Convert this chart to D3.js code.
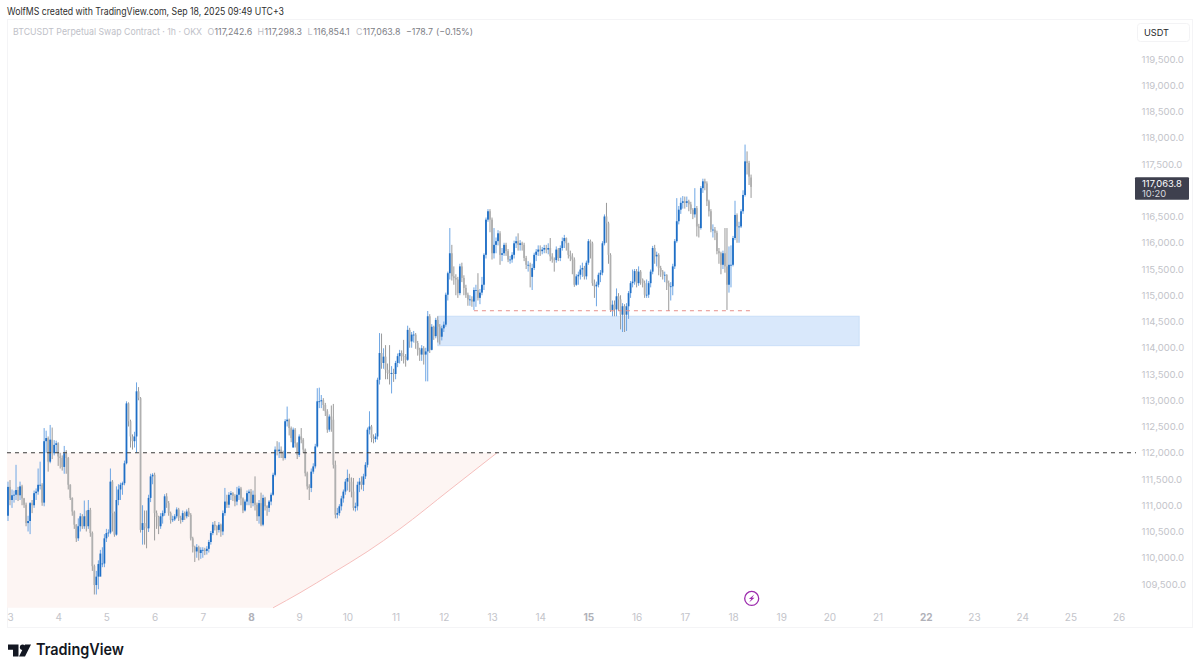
<!DOCTYPE html>
<html>
<head>
<meta charset="utf-8">
<script src="https://cdn.jsdelivr.net/npm/d3@7"></script>
<style>
  body { margin: 0; background: #fff; }
  svg { display: block; font-family: Inter, "Noto Sans", sans-serif; }
</style>
</head>
<body>
<svg id="chart" width="1200" height="672"></svg>
<script>
// BTCUSDT 1h candles, one row per day
// first row holds the single candle before Sep 3 00:00
const firstHour = -1;
const opens = [110800,
  111350,111100,111190,111200,111290,111190,111360,111130,111010,110660,110700,111040,111000,111230,111260,111390,111390,111050,112220,112280,111830,112250,111990,112150,
  112180,111930,111900,111730,111990,111900,111390,111140,110880,110630,110370,110600,110790,110600,110790,110600,110910,110470,109840,109480,109640,109640,109880,109890,
  110370,110470,110480,111450,110850,110440,111100,111300,111390,111420,111800,112940,112600,112310,112220,112310,113170,113040,110530,110660,110590,110560,111140,111550,
  111580,110850,110780,110600,110790,110850,111170,111040,110850,110720,110730,110790,110920,110760,110720,110850,110790,110880,110820,110370,110210,110120,110200,110090,
  110150,110150,110130,110170,110300,110470,110630,110600,110530,110630,110500,110850,111070,111010,111200,111230,111180,111070,111200,111320,111130,110900,111070,111230,
  111260,111040,111200,111010,110790,111040,110630,111140,110980,110950,111070,111200,111580,112060,112030,112060,112000,111900,112600,112630,112470,112100,112440,112180,
  111960,112310,112250,112060,111610,111360,111330,111640,111740,112120,112980,112980,113000,112910,112790,112440,112690,112630,111770,110820,110850,110980,111130,111260,
  111450,111520,111450,111260,110950,110980,111390,111450,111390,111550,111770,112440,112500,112280,112260,112310,113390,113900,113710,113830,113580,113520,113500,113520,
  113500,113710,113840,113900,113840,113830,113770,114340,114120,114250,114250,114090,113960,113870,113990,113870,113930,114600,113960,114400,114220,114530,114400,114210,
  114370,114440,115010,115420,115800,115360,115330,115300,115040,115550,115330,115140,115010,114920,114920,114880,115100,115100,114950,115050,115200,115770,116440,116600,
  116440,115800,115960,116030,116180,115770,115800,115960,115840,115680,115680,115770,115990,116030,115960,115990,115960,115710,115580,115580,115350,115520,115770,115830,
  115870,115840,115870,115900,115870,115900,115740,115680,115670,115870,115710,115900,116030,116090,115990,115770,115740,115680,115200,115360,115390,115490,115520,115360,
  115620,116030,115990,115230,115170,115200,115390,115430,115990,116500,116370,115770,114720,114820,114730,114980,114920,114630,114790,114630,114790,115040,115230,115260,
  115460,115230,115450,115300,115230,115010,115010,115230,115450,115900,115740,115770,115520,115450,115390,115390,115230,115170,115170,115550,116030,116410,116630,116760,
  116790,116760,116790,116730,116630,116540,116660,116310,116280,117040,117170,117130,116790,116600,116250,116250,116190,115840,115800,115580,115800,115550,115200,115580,
  115580,116090,116530,116310,116310,116600,116910,117550,117520,117242.6];
const highs = [111450,
  111480,111300,111280,111770,111350,111450,111390,111140,111050,110800,111060,111100,111280,111320,111700,111830,111420,112470,112420,112310,112530,112480,112240,112230,
  112200,112000,111950,112130,112050,111920,111400,111150,110900,110640,110750,110850,110830,111090,110900,111100,110950,110500,109870,109750,109950,110150,110200,110450,
  110550,110540,111700,111480,110880,111360,111400,111430,111450,111850,112980,112960,112630,112350,112400,113340,113250,113060,111000,110900,110900,111200,111600,111610,
  111620,110900,110800,110850,110900,111210,111230,111080,110880,110800,110830,110960,110950,110800,110900,110880,110920,110950,110850,110400,110230,110260,110230,110200,
  110200,110190,110220,110340,110510,110680,110700,110620,110680,110650,110900,111330,111200,111250,111270,111250,111210,111350,111370,111350,111150,111110,111280,111300,
  111310,111280,111550,111050,111100,111240,111200,111160,111000,111100,111240,111620,112120,112220,112200,112120,112040,112640,112880,112650,112500,112480,112470,112200,
  112350,112470,112280,112080,111640,111400,111700,111800,112170,113230,113240,113100,113040,112950,112830,112730,112900,112930,111850,110950,111020,111180,111300,111500,
  111680,111600,111530,111520,111050,111450,111520,111550,111600,111820,112480,112790,112530,112350,112370,113430,114280,114270,113990,114050,113700,114050,113650,113600,
  113750,113890,113960,113950,114150,113880,114420,114380,114300,114320,114280,114130,114000,114050,114030,114000,114700,114640,114450,114420,114570,114600,114450,114420,
  114500,115050,115450,116280,115960,115550,115400,115350,115600,115620,115380,115200,115050,115000,114980,115150,115200,115420,115120,115350,115800,116480,116640,116640,
  116480,116280,116100,116240,116220,115900,116000,116000,115880,115750,115820,116040,116120,116180,116050,116020,116000,115750,115650,115620,115600,115810,115880,115950,
  115950,115920,115960,115960,115990,116090,115800,115720,115930,115900,115950,116100,116150,116100,116000,115850,115800,115720,115400,115450,115570,115620,115560,115660,
  116070,116060,116020,115300,115260,115430,115480,116030,116540,116760,116400,115800,114900,114900,115130,115040,115000,114850,114830,114850,115080,115270,115490,115500,
  115500,115550,115480,115320,115280,115300,115270,115490,115940,115960,115830,115800,115560,115480,115450,115400,115280,115250,115600,116070,116850,116700,116860,116890,
  116880,116880,116820,116780,116660,117040,116700,116360,117080,117220,117220,117170,116820,116640,116350,116300,116230,115900,115830,115850,116280,116280,115930,115950,
  116130,116800,116560,116400,116640,117000,117870,117740,117560,117298.3];
const lows = [110700,
  111000,110950,111050,111100,111080,111100,111000,110950,110600,110500,110450,110850,110950,111100,111200,111300,110990,110980,112000,111640,111800,111880,111950,112000,
  111750,111700,111660,111600,111600,111300,111100,110800,110550,110300,110320,110500,110550,110550,110500,110550,110400,109750,109300,109300,109400,109800,109820,109820,
  110300,110400,110450,110500,110400,110420,111000,111100,111200,111380,111780,112500,112100,112060,112100,112000,113000,110480,110250,110250,110180,110490,111060,111400,
  110330,110550,110450,110550,110650,110800,110950,110800,110650,110680,110700,110750,110700,110650,110680,110720,110750,110780,110330,110100,109920,110000,109950,109980,
  110000,110050,110060,110100,110250,110430,110520,110430,110480,110400,110430,110800,110950,110950,111100,111080,110980,111000,111100,111000,110850,110880,111000,111000,
  110950,110980,110900,110700,110650,110600,110600,110900,110800,110870,111000,111180,111550,111950,111900,111900,111850,111870,112500,112330,112200,112100,112100,111880,
  111920,112180,112000,111550,111300,111100,111250,111600,111700,112100,112850,112850,112800,112700,112380,112400,112400,111700,110750,110750,110800,110900,111050,111200,
  111280,111250,111150,110900,110880,110900,111250,111300,111270,111500,111720,112350,112200,112180,112200,112250,113300,113600,113600,113400,113400,113300,113130,113350,
  113400,113630,113700,113750,113700,113640,113750,114000,114000,114100,113980,113850,113750,113750,113680,113360,113360,113900,113950,114150,114180,114100,114060,114140,
  114300,114400,114900,115300,115280,115200,115000,114950,115000,115250,115000,114950,114800,114800,114780,114720,114780,114900,114830,115000,115100,115700,116400,116200,
  115680,115700,115800,115950,115580,115650,115750,115750,115630,115600,115620,115700,115900,115850,115850,115850,115650,115500,115450,115150,115100,115480,115650,115750,
  115750,115780,115800,115800,115780,115650,115620,115450,115620,115650,115650,115850,115900,115850,115700,115650,115400,115160,115180,115200,115300,115350,115300,115300,
  115580,115700,115180,114950,114790,115150,115250,115380,115950,116000,115600,114680,114600,114600,114600,114700,114350,114300,114300,114320,114550,114950,115150,115200,
  115150,115180,115200,115150,114950,114950,114950,115150,115400,115600,115550,115380,115350,115300,115250,115100,114700,114900,115000,115500,116000,116350,116550,116650,
  116650,116680,116600,116550,116450,116480,116120,116100,116250,116950,117000,116700,116500,116200,116100,116050,115780,115600,115400,115500,115430,114720,115050,115150,
  115550,116050,116000,116000,116280,116550,116880,117300,117100,116854.1];
const closes = [111350,
  111100,111190,111200,111290,111190,111360,111130,111010,110660,110700,111040,111000,111230,111260,111390,111390,111050,112220,112280,111830,112250,111990,112150,112180,
  111930,111900,111730,111990,111900,111390,111140,110880,110630,110370,110600,110790,110600,110790,110600,110910,110470,109840,109480,109640,109880,110080,109890,110370,
  110470,110480,111450,110850,110440,111100,111300,111390,111420,111800,112940,112600,112310,112220,112310,113170,113040,110530,110660,110590,110560,111140,111550,111580,
  110850,110780,110600,110790,110850,111170,111040,110850,110720,110730,110790,110920,110760,110720,110850,110790,110880,110820,110370,110210,110120,110200,110090,110150,
  110150,110130,110170,110300,110470,110630,110600,110530,110630,110500,110850,111070,111010,111200,111230,111180,111070,111200,111320,111130,110900,111070,111230,111260,
  111040,111200,111010,110790,111040,110630,111140,110980,110950,111070,111200,111580,112060,112030,112060,112000,111900,112600,112630,112470,112280,112440,112180,111960,
  112310,112250,112060,111610,111360,111330,111640,111740,112120,112980,112980,113000,112910,112790,112440,112690,112630,111770,110820,110850,110980,111130,111260,111450,
  111520,111450,111260,110950,110980,111390,111450,111390,111550,111770,112440,112500,112280,112260,112310,113390,113900,113710,113830,113580,113520,113500,113520,113500,
  113710,113840,113900,113840,113830,113770,114340,114120,114250,114250,114090,113960,113870,113990,113870,113930,114600,113960,114400,114220,114530,114400,114210,114370,
  114440,115010,115420,115800,115360,115330,115300,115040,115550,115330,115140,115010,114920,114920,114880,115100,115100,114950,115050,115200,115770,116440,116600,116440,
  115800,115960,116030,116180,115770,115800,115960,115840,115680,115680,115770,115990,116030,115960,115990,115960,115710,115580,115580,115550,115520,115770,115830,115870,
  115840,115870,115900,115870,115900,115740,115680,115670,115870,115710,115900,116030,116090,115990,115770,115740,115680,115200,115360,115390,115490,115520,115360,115620,
  116030,115990,115230,115170,115200,115390,115430,115990,116500,116370,115770,114720,114820,114730,114980,114920,114630,114790,114630,114790,115040,115230,115260,115460,
  115230,115450,115300,115230,115010,115010,115230,115450,115900,115740,115770,115520,115450,115390,115390,115230,115170,115170,115550,116030,116410,116630,116760,116790,
  116760,116790,116730,116630,116540,116660,116310,116280,117040,117170,117130,116790,116600,116250,116250,116190,115840,115800,115580,115800,115550,115200,115580,115580,
  116090,116530,116310,116310,116600,116910,117550,117520,117260,117063.8];

// axis labels
const dayLabels = [3,4,5,6,7,8,9,10,11,12,13,14,15,16,17,18,19,20,21,22,23,24,25,26];
const dayHours = [0,24,48,72,96,120,144,168,192,216,240,264,288,312,336,360,384,408,432,456,480,504,528,552];
const weekStartDays = [8,15,22];
const priceTicks = [109500,110000,110500,111000,111500,112000,112500,113000,113500,114000,114500,115000,115500,116000,116500,117500,118000,118500,119000,119500];

// drawings on the chart, in hours since Sep 3 00:00 and in price
const paneStartHour = -1.5;
const paneBottomPrice = 109047;
const arcHours = [131,144.4,160.9,177.8,194.2,219,242.5];
const arcPrices = [109047,109333,109714,110114,110552,111295,112000];
const shadeHours = [paneStartHour, ...arcHours];
const shadePrices = [paneBottomPrice, ...arcPrices];
const resistancePrice = 112000;
const supportHours = [231,368.5];
const supportPrice = 114705;
const zoneHours = [213,422.8];
const zonePrices = [114600,114040];

const lastPrice = closes[closes.length - 1];

const svg = d3.select("#chart");
const paneRight = 1136;

// Scales: one day is 48.2px, 500 USD is 26.25px
const x = d3.scaleLinear().domain([0, 552]).range([10, 1118.6]);
const y = d3.scaleLinear().domain([119500, 109500]).range([59, 584]);

// Faint frame of the chart
svg.append("rect")
  .attr("x", 7.5).attr("y", 19.5)
  .attr("width", 1185).attr("height", 608)
  .attr("fill", "none")
  .attr("stroke", "#f4f4f6");

// Header line above the chart (squeezed, the original font is narrower than Inter)
svg.append("text")
  .attr("x", 7).attr("y", 14.5)
  .attr("font-size", 10)
  .attr("textLength", 277)
  .attr("lengthAdjust", "spacingAndGlyphs")
  .attr("fill", "#2e2e2e")
  .text("WolfMS created with TradingView.com, Sep 18, 2025 09:49 UTC+3");

// Pink shaded area under the level, bounded by the arc
svg.append("path")
  .datum(shadeHours)
  .attr("fill", "#fdf5f3")
  .attr("d", d3.area()
    .x(d => x(d))
    .y0(y(resistancePrice))
    .y1((d, i) => y(shadePrices[i])));

svg.append("path")
  .datum(arcHours)
  .attr("fill", "none")
  .attr("stroke", "#f6bfbd")
  .attr("stroke-width", 1)
  .attr("d", d3.line()
    .x(d => x(d))
    .y((d, i) => y(arcPrices[i]))
    .curve(d3.curveMonotoneX));

// Blue zone
svg.append("rect")
  .attr("x", x(zoneHours[0]))
  .attr("y", y(zonePrices[0]))
  .attr("width", x(zoneHours[1]) - x(zoneHours[0]))
  .attr("height", y(zonePrices[1]) - y(zonePrices[0]))
  .attr("fill", "#d9e8fb")
  .attr("stroke", "#c9def8")
  .attr("stroke-width", 1);

// Candles
const candles = svg.append("g")
  .style("filter", "blur(0.3px)")
  .selectAll("g")
  .data(closes)
  .join("g");

candles.append("line")
  .attr("x1", (d, i) => x(i + firstHour))
  .attr("x2", (d, i) => x(i + firstHour))
  .attr("y1", (d, i) => y(highs[i]))
  .attr("y2", (d, i) => y(lows[i]))
  .attr("stroke", (d, i) => d >= opens[i] ? "#6ea6e4" : "#9a9a9a")
  .attr("stroke-width", 1);

candles.append("rect")
  .attr("x", (d, i) => x(i + firstHour) - 0.9)
  .attr("width", 1.8)
  .attr("y", (d, i) => y(Math.max(d, opens[i])))
  .attr("height", (d, i) => Math.max(0.8, Math.abs(y(d) - y(opens[i]))))
  .attr("fill", (d, i) => d >= opens[i] ? "#1f6fc6" : "#b0b0b0");

// Dashed levels
svg.append("line")
  .attr("x1", x(paneStartHour)).attr("x2", paneRight)
  .attr("y1", y(resistancePrice)).attr("y2", y(resistancePrice))
  .attr("stroke", "#3a3a3a")
  .attr("stroke-dasharray", "4 4");

svg.append("line")
  .attr("x1", x(supportHours[0])).attr("x2", x(supportHours[1]))
  .attr("y1", y(supportPrice)).attr("y2", y(supportPrice))
  .attr("stroke", "#e58f8b")
  .attr("stroke-dasharray", "4 4");

// Legend
const legendGrey = "#c0c1c8";
const legendDark = "#7d7e86";
const legendTitleWidth = 189;
svg.append("text")
  .attr("x", 13).attr("y", 34.5)
  .attr("font-size", 9.6)
  .attr("textLength", legendTitleWidth)
  .attr("lengthAdjust", "spacingAndGlyphs")
  .attr("fill", legendGrey)
  .text("BTCUSDT Perpetual Swap Contract · 1h · OKX");

const legend = [
  ["O", 207.5, legendGrey], ["117,242.6", 214.5, legendDark],
  ["H", 257.5, legendGrey], ["117,298.3", 264.5, legendDark],
  ["L", 307.5, legendGrey], ["116,854.1", 313.5, legendDark],
  ["C", 356, legendGrey], ["117,063.8", 363, legendDark],
  ["−178.7", 406, legendDark], ["(−0.15%)", 436, legendDark]
];
svg.append("g").selectAll("text")
  .data(legend)
  .join("text")
  .attr("x", d => d[1])
  .attr("y", 34.5)
  .attr("font-size", 8.8)
  .attr("fill", d => d[2])
  .text(d => d[0]);

// Price axis
const priceAxis = svg.append("g")
  .attr("transform", `translate(${paneRight + 5.5},0)`)
  .call(d3.axisRight(y).tickValues(priceTicks).tickSize(0).tickPadding(0).tickFormat(d3.format(",.1f")));
priceAxis.select(".domain").remove();
priceAxis.selectAll("text")
  .attr("font-family", "Inter, 'Noto Sans', sans-serif")
  .attr("font-size", 9.6)
  .attr("fill", "#c3c4ca");

// Time axis
const timeAxis = svg.append("g")
  .attr("transform", "translate(0,614)")
  .call(d3.axisBottom(x).tickValues(dayHours).tickSize(0).tickPadding(0).tickFormat((d, i) => dayLabels[i]));
timeAxis.select(".domain").remove();
timeAxis.selectAll("text")
  .attr("font-family", "Inter, 'Noto Sans', sans-serif")
  .attr("font-size", 10)
  .attr("font-weight", (d, i) => weekStartDays.includes(dayLabels[i]) ? 700 : 400)
  .attr("fill", (d, i) => weekStartDays.includes(dayLabels[i]) ? "#b0b1b8" : "#c3c4ca");

// USDT currency box
svg.append("rect")
  .attr("x", 1137.5).attr("y", 23.5)
  .attr("width", 52).attr("height", 18)
  .attr("rx", 3)
  .attr("fill", "#fff")
  .attr("stroke", "#f3f3f5");
svg.append("text")
  .attr("x", 1144).attr("y", 35.5)
  .attr("font-size", 9.2)
  .attr("fill", "#26272b")
  .text("USDT");

// Last price label
svg.append("rect")
  .attr("x", 1135).attr("y", y(lastPrice) - 9.7)
  .attr("width", 54).attr("height", 22.5)
  .attr("rx", 1)
  .attr("fill", "#3e404e");
svg.append("text")
  .attr("x", 1142).attr("y", y(lastPrice) - 0.2)
  .attr("font-size", 9.4)
  .attr("fill", "#fff")
  .text(d3.format(",.1f")(lastPrice));
svg.append("text")
  .attr("x", 1142).attr("y", y(lastPrice) + 10)
  .attr("font-size", 9.4)
  .attr("fill", "#d8d9de")
  .text("10:20");

// Lightning icon above the time axis
const bolt = svg.append("g").attr("transform", "translate(751.7,598.4)");
bolt.append("circle")
  .attr("r", 7)
  .attr("fill", "#fff")
  .attr("stroke", "#9c2bad")
  .attr("stroke-width", 1.3);
bolt.append("path")
  .attr("d", "M2.6,-4 L-2.8,0.7 L-0.4,0.7 L-2.6,4 L2.8,-0.7 L0.4,-0.7 Z")
  .attr("fill", "#9c2bad");

// TradingView logo
const logo = svg.append("g").attr("transform", "translate(8,644.5)").attr("fill", "#131722");
logo.append("path").attr("d", "M0,0 H10.5 V12 H5 V5.3 H0 Z");
logo.append("circle").attr("cx", 14.6).attr("cy", 2.7).attr("r", 2.7);
logo.append("path").attr("d", "M17,0 H23 L17,12 H11 Z");
svg.append("text")
  .attr("x", 36).attr("y", 655)
  .attr("font-size", 15.5)
  .attr("font-weight", 600)
  .attr("textLength", 88)
  .attr("lengthAdjust", "spacingAndGlyphs")
  .attr("fill", "#131722")
  .text("TradingView");
</script>
</body>
</html>
